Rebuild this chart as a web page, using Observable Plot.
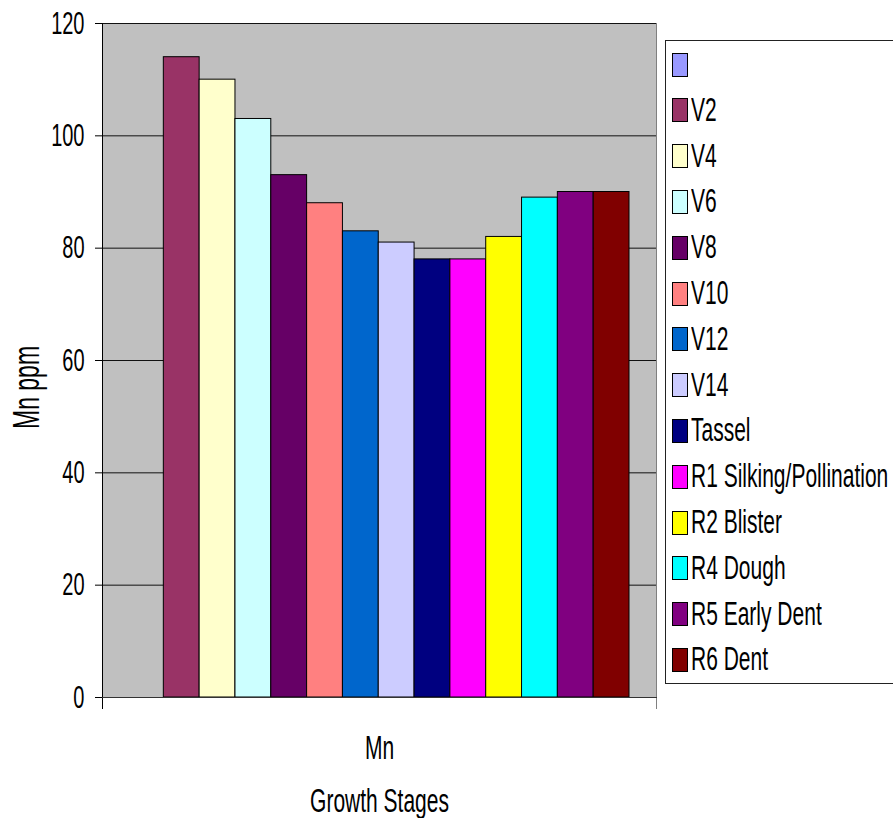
<!DOCTYPE html>
<html>
<head>
<meta charset="utf-8">
<script src="https://cdn.jsdelivr.net/npm/d3@7"></script>
<script src="https://cdn.jsdelivr.net/npm/@observablehq/plot@0.6"></script>
<style>
  html, body { margin: 0; padding: 0; background: #fff; overflow: hidden; }
  #wrap { position: relative; width: 893px; height: 818px; font-family: "Liberation Sans", Arial, sans-serif; }
  #legend { position: absolute; left: 665px; top: 40px; width: 240px; height: 644px; border: 1px solid #222; background: #fff; box-sizing: border-box; }
  .item { position: absolute; left: 6px; height: 23px; display: flex; align-items: center; }
  .sw { width: 14px; height: 22px; border: 1px solid #000; box-sizing: content-box; }
  .lab { display: inline-block; margin-left: 3px; font-size: 21px; line-height: 23px; color: #000; transform: scaleY(1.55); transform-origin: 50% 55%; white-space: nowrap; }
</style>
</head>
<body>
<div id="wrap"></div>
<script>
// ---- data ----
const groups = ["Mn"];
const stages = ["", "V2", "V4", "V6", "V8", "V10", "V12", "V14", "Tassel",
  "R1 Silking/Pollination", "R2 Blister", "R4 Dough", "R5 Early Dent", "R6 Dent"];
const values = [null, 114, 110, 103, 93, 88, 83, 81, 78, 78, 82, 89, 90, 90];
const colors = ["#9999FF", "#993366", "#FFFFCC", "#CCFFFF", "#660066", "#FF8080",
  "#0066CC", "#CCCCFF", "#000080", "#FF00FF", "#FFFF00", "#00FFFF", "#800080", "#800000"];
const yTicks = [0, 20, 40, 60, 80, 100, 120];
const yTitle = "Mn ppm";
const xTitle = "Growth Stages";

const data = stages.map((s, i) => ({group: groups[0], stage: s, value: values[i]}));

const chart = Plot.plot({
  width: 893,
  height: 818,
  marginLeft: 102,
  marginRight: 237,
  marginTop: 23,
  marginBottom: 121,
  style: {fontFamily: "'Liberation Sans', Arial, sans-serif", fontSize: "20px", color: "#000", background: "transparent", overflow: "visible"},
  fx: {domain: groups, padding: 0, round: false},
  x: {domain: stages, padding: 0, round: false, insetLeft: 25.5, insetRight: 27, axis: null},
  y: {domain: [0, 120]},
  color: {domain: stages, range: colors},
  marks: [
    Plot.frame({fill: "#C0C0C0"}),
    Plot.gridY(yTicks, {stroke: "#111", strokeOpacity: 1, strokeWidth: 1}),
    Plot.barY(data.filter(d => d.value != null), {fx: "group", x: "stage", y: "value", fill: "stage", stroke: "#000", strokeWidth: 1}),
    Plot.frame({anchor: "left", stroke: "#000", insetBottom: -11}),
    Plot.frame({anchor: "right", stroke: "#808080", insetBottom: -11}),
    Plot.frame({anchor: "bottom", stroke: "#333"}),
    Plot.axisY(yTicks, {tickSize: 7, tickPadding: 11, label: null}),
    Plot.axisY({ticks: [], label: yTitle, labelArrow: "none", labelAnchor: "center", labelOffset: 90, fontSize: 23}),
    Plot.axisFx({anchor: "bottom", tickSize: 0, tickPadding: 38, fontSize: 21, label: xTitle, labelArrow: "none", labelAnchor: "center", labelOffset: 114})
  ]
});

// stretch glyphs vertically like the original rendering
const S = 1.6;
chart.querySelectorAll("text").forEach(t => {
  const x = +t.getAttribute("x") || 0, y = +t.getAttribute("y") || 0;
  let tr = t.getAttribute("transform") || "";
  // the original's y title sits a little below the plot's middle
  if (t.textContent === yTitle) tr = `translate(0,27) ${tr}`;
  t.setAttribute("transform", `${tr} translate(${x},${y}) scale(1,${S}) translate(${-x},${-y})`);
});

const wrap = document.getElementById("wrap");
wrap.appendChild(chart);

// legend
const legend = document.createElement("div");
legend.id = "legend";
stages.forEach((s, i) => {
  const item = document.createElement("div");
  item.className = "item";
  item.style.top = (12 + i * 45.8) + "px";
  const sw = document.createElement("div");
  sw.className = "sw";
  sw.style.background = colors[i];
  const lab = document.createElement("span");
  lab.className = "lab";
  lab.textContent = s;
  item.appendChild(sw);
  item.appendChild(lab);
  legend.appendChild(item);
});
wrap.appendChild(legend);
</script>
</body>
</html>
